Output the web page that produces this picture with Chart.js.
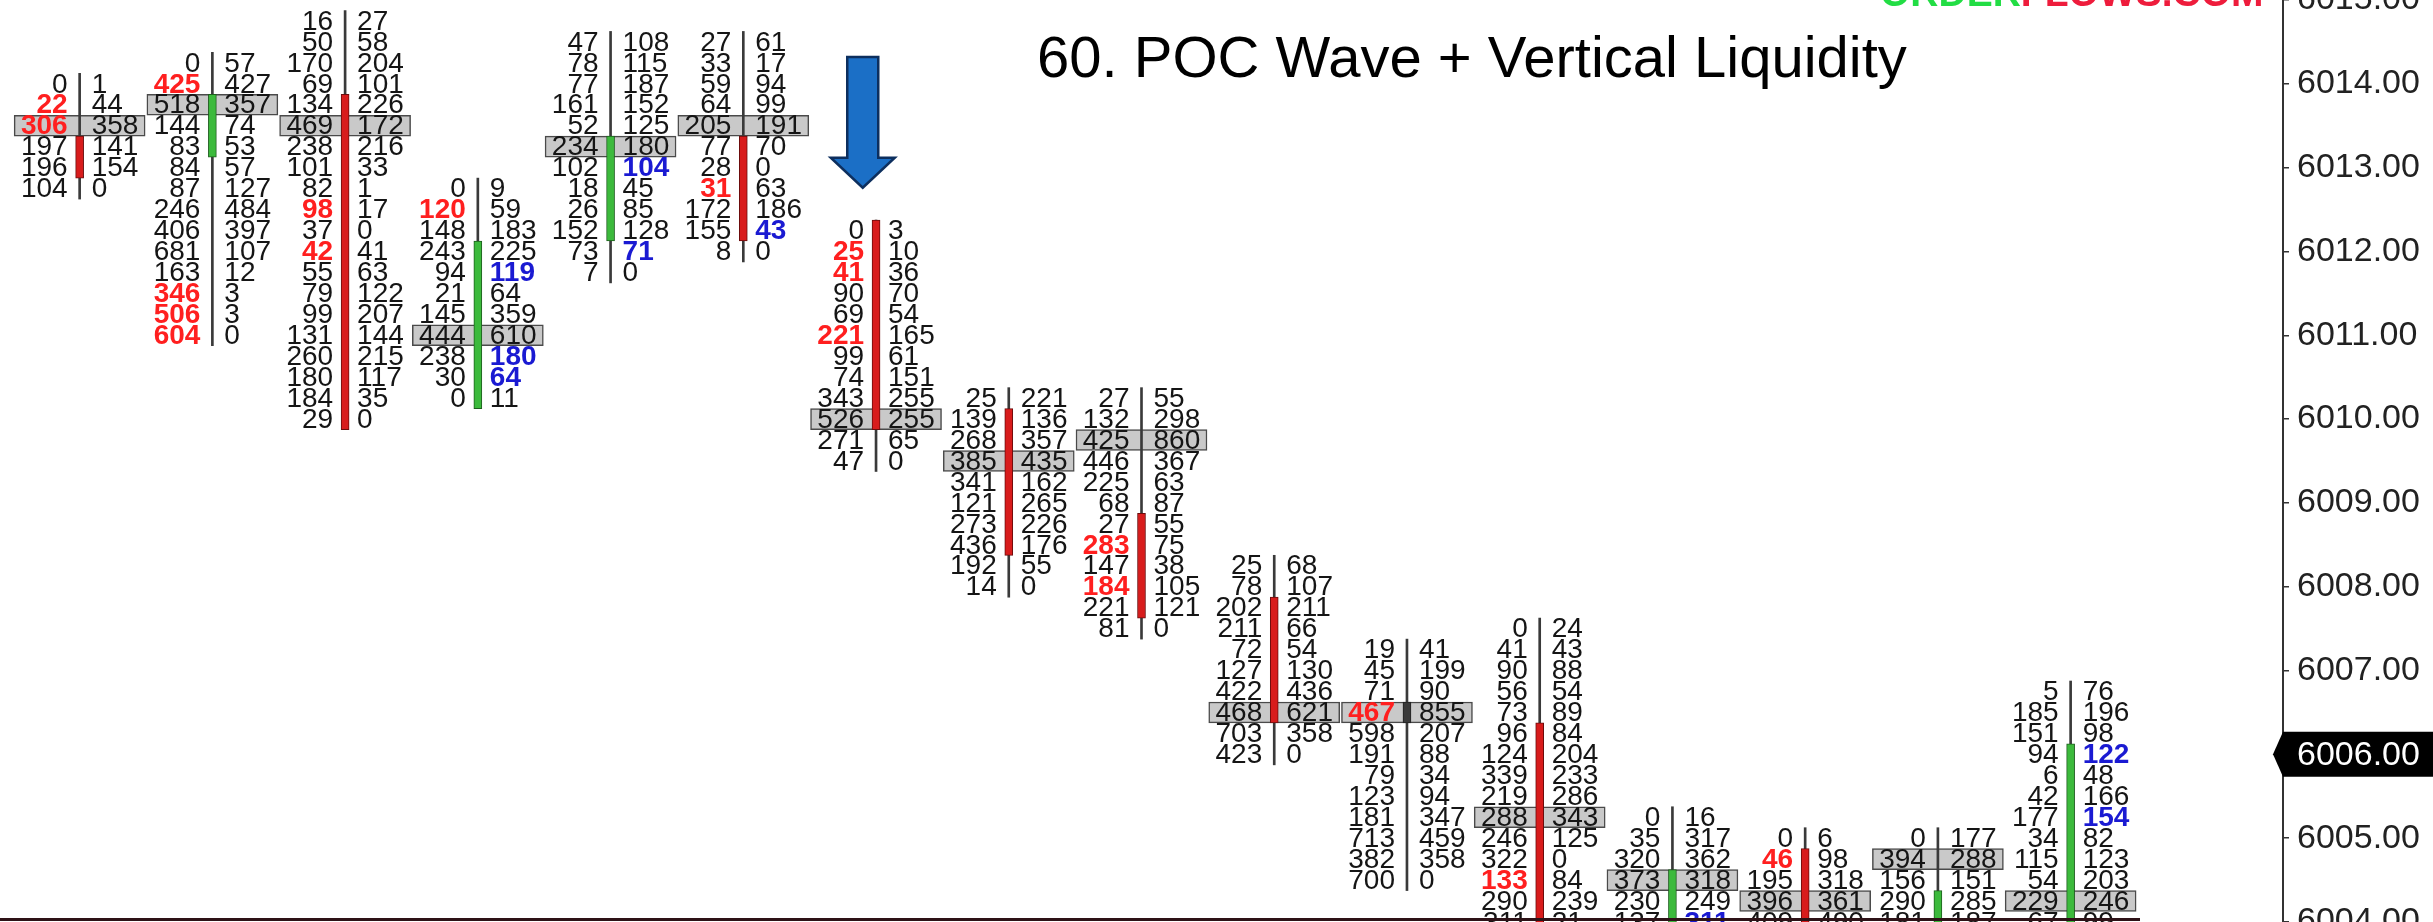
<!DOCTYPE html>
<html lang="en">
<head>
    <meta charset="UTF-8">
    <title>60. POC Wave + Vertical Liquidity</title>
    <script src="https://cdn.jsdelivr.net/npm/chart.js"></script>
    <style>
        html, body {
            margin: 0;
            padding: 0;
            background: #fff;
            overflow: hidden;
        }
        body {
            width: 2433px;
            height: 922px;
            position: relative;
            font-family: 'Liberation Sans', Arial, sans-serif;
        }
        #chart {
            position: absolute;
            left: 0;
            top: 0;
        }
        .title {
            position: absolute;
            left: 1037px;
            top: 28px;
            font-size: 58px;
            line-height: 58px;
            color: #000;
            white-space: nowrap;
        }
        .logo {
            position: absolute;
            left: 1880px;
            top: -27px;
            font-size: 39px;
            line-height: 39px;
            font-weight: bold;
            white-space: nowrap;
        }
        .logo .g { color: #22dd44; }
        .logo .r { color: #ee1c3c; }
    </style>
</head>
<body>
    <canvas id="chart" width="2433" height="922"></canvas>
    <div class="title">60. POC Wave + Vertical Liquidity</div>
    <div class="logo"><span class="g">ORDER</span><span class="r">FLOWS.COM</span></div>

    <script>
        // price step of one footprint row
        const TICK = 0.25;

        // price of the top row of each bar
        const colTop = [6014.00, 6014.25, 6014.75, 6012.75, 6014.50, 6014.50, 6012.25, 6010.25,
                        6010.25, 6008.25, 6007.25, 6007.50, 6005.25, 6005.00, 6005.00, 6006.75];

        // bid volume per row, top to bottom
        const bids = [
            [0, 22, 306, 197, 196, 104],
            [0, 425, 518, 144, 83, 84, 87, 246, 406, 681, 163, 346, 506, 604],
            [16, 50, 170, 69, 134, 469, 238, 101, 82, 98, 37, 42, 55, 79, 99, 131, 260, 180, 184, 29],
            [0, 120, 148, 243, 94, 21, 145, 444, 238, 30, 0],
            [47, 78, 77, 161, 52, 234, 102, 18, 26, 152, 73, 7],
            [27, 33, 59, 64, 205, 77, 28, 31, 172, 155, 8],
            [0, 25, 41, 90, 69, 221, 99, 74, 343, 526, 271, 47],
            [25, 139, 268, 385, 341, 121, 273, 436, 192, 14],
            [27, 132, 425, 446, 225, 68, 27, 283, 147, 184, 221, 81],
            [25, 78, 202, 211, 72, 127, 422, 468, 703, 423],
            [19, 45, 71, 467, 598, 191, 79, 123, 181, 713, 382, 700],
            [0, 41, 90, 56, 73, 96, 124, 339, 219, 288, 246, 322, 133, 290, 311],
            [0, 35, 320, 373, 230, 137],
            [0, 46, 195, 396, 409],
            [0, 394, 156, 290, 181],
            [5, 185, 151, 94, 6, 42, 177, 34, 115, 54, 229, 67]
        ];

        // ask volume per row, top to bottom
        const asks = [
            [1, 44, 358, 141, 154, 0],
            [57, 427, 357, 74, 53, 57, 127, 484, 397, 107, 12, 3, 3, 0],
            [27, 58, 204, 101, 226, 172, 216, 33, 1, 17, 0, 41, 63, 122, 207, 144, 215, 117, 35, 0],
            [9, 59, 183, 225, 119, 64, 359, 610, 180, 64, 11],
            [108, 115, 187, 152, 125, 180, 104, 45, 85, 128, 71, 0],
            [61, 17, 94, 99, 191, 70, 0, 63, 186, 43, 0],
            [3, 10, 36, 70, 54, 165, 61, 151, 255, 255, 65, 0],
            [221, 136, 357, 435, 162, 265, 226, 176, 55, 0],
            [55, 298, 860, 367, 63, 87, 55, 75, 38, 105, 121, 0],
            [68, 107, 211, 66, 54, 130, 436, 621, 358, 0],
            [41, 199, 90, 855, 207, 88, 34, 94, 347, 459, 358, 0],
            [24, 43, 88, 54, 89, 84, 204, 233, 286, 343, 125, 0, 84, 239, 21],
            [16, 317, 362, 318, 249, 311],
            [6, 98, 318, 361, 490],
            [177, 288, 151, 285, 187],
            [76, 196, 98, 122, 48, 166, 154, 82, 123, 203, 246, 99]
        ];

        // rows (index from top) with bid / ask imbalance
        const bidImb = [[1, 2], [1, 11, 12, 13], [9, 11], [1], [], [7], [1, 2, 5], [], [7, 9], [], [3], [12], [], [1], [], []];
        const askImb = [[], [], [], [4, 8, 9], [6, 10], [9], [], [], [], [], [], [], [5], [], [], [3, 6]];

        // point of control of each bar
        const pocPrice = [6013.50, 6013.75, 6013.50, 6011.00, 6013.25, 6013.50, 6010.00, 6009.50,
                          6009.75, 6006.50, 6006.50, 6005.25, 6004.50, 6004.25, 6004.75, 6004.25];

        // candle open / close
        const openPrice  = [6013.25, 6013.25, 6013.75, 6010.25, 6012.25, 6013.25, 6012.25, 6010.00,
                            6008.75, 6007.75, 6006.50, 6006.25, 6004.00, 6004.75, 6004.00, 6004.00];
        const closePrice = [6013.00, 6013.75, 6010.00, 6012.00, 6013.25, 6012.25, 6010.00, 6008.50,
                            6007.75, 6006.50, 6006.50, 6004.00, 6004.50, 6004.00, 6004.25, 6006.00];

        // axis labels and last price
        const priceTicks = [6004, 6005, 6006, 6007, 6008, 6009, 6010, 6011, 6012, 6013, 6014, 6015];
        const lastPrice = 6006.00;

        // arrow annotation (bar position, from price, to price)
        const arrowAt = 5.9;
        const arrowFrom = 6014.32;
        const arrowTo = 6012.76;

        const FONT = "'Liberation Sans', Arial, sans-serif";
        const half = TICK / 2;
        const cols = colTop.map((t, i) => i);
        const lowOf = i => colTop[i] - TICK * (bids[i].length - 1);

        const bodyData = cols.map(i => ({
            x: i,
            y: [Math.min(openPrice[i], closePrice[i]) - half, Math.max(openPrice[i], closePrice[i]) + half]
        }));
        const bodyFill = cols.map(i => closePrice[i] > openPrice[i] ? '#3cba3c' : (closePrice[i] < openPrice[i] ? '#d81c1c' : '#3a3a3a'));
        const bodyLine = cols.map(i => closePrice[i] > openPrice[i] ? '#1d5e1d' : (closePrice[i] < openPrice[i] ? '#6a0c0c' : '#222'));
        const wickData = cols.map(i => ({ x: i, y: [lowOf(i) - half, colTop[i] + half] }));
        const pocData = cols.map(i => ({ x: i, y: [pocPrice[i] - half, pocPrice[i] + half] }));

        // numbers inside each row
        const footprintText = {
            id: 'footprintText',
            afterDatasetsDraw(chart) {
                const { ctx, chartArea } = chart;
                const xs = chart.scales.x;
                const ys = chart.scales.y;
                ctx.save();
                ctx.beginPath();
                ctx.rect(chartArea.left, chartArea.top, chartArea.width, chartArea.height);
                ctx.clip();
                ctx.textBaseline = 'middle';
                cols.forEach(i => {
                    const cx = xs.getPixelForValue(i);
                    bids[i].forEach((b, j) => {
                        const yy = ys.getPixelForValue(colTop[i] - TICK * j) + 1;
                        const red = bidImb[i].includes(j);
                        ctx.font = (red ? 'bold ' : '') + '28px ' + FONT;
                        ctx.fillStyle = red ? '#ff1f1f' : '#151515';
                        ctx.textAlign = 'right';
                        ctx.fillText(String(b), cx - 12, yy);

                        const blue = askImb[i].includes(j);
                        ctx.font = (blue ? 'bold ' : '') + '28px ' + FONT;
                        ctx.fillStyle = blue ? '#1a1ad2' : '#151515';
                        ctx.textAlign = 'left';
                        ctx.fillText(String(asks[i][j]), cx + 12, yy);
                    });
                });

                // blue arrow
                const ax = xs.getPixelForValue(arrowAt);
                const y0 = ys.getPixelForValue(arrowFrom);
                const y1 = ys.getPixelForValue(arrowTo);
                const yh = y1 - 30;
                ctx.beginPath();
                ctx.moveTo(ax - 15.5, y0);
                ctx.lineTo(ax + 15.5, y0);
                ctx.lineTo(ax + 15.5, yh);
                ctx.lineTo(ax + 32, yh);
                ctx.lineTo(ax, y1);
                ctx.lineTo(ax - 32, yh);
                ctx.lineTo(ax - 15.5, yh);
                ctx.closePath();
                ctx.fillStyle = '#1b6fc6';
                ctx.fill();
                ctx.lineWidth = 2.5;
                ctx.strokeStyle = '#0d2f5e';
                ctx.stroke();
                ctx.restore();
            },
            afterDraw(chart) {
                const { ctx, chartArea } = chart;
                const ys = chart.scales.y;
                ctx.save();
                // bottom panel border
                ctx.fillStyle = '#2e1217';
                ctx.fillRect(0, chart.height - 4, 2140, 3);

                // last price tag
                const yy = ys.getPixelForValue(lastPrice);
                const left = chartArea.right;
                ctx.beginPath();
                ctx.moveTo(left - 10, yy);
                ctx.lineTo(left, yy - 22.5);
                ctx.lineTo(chart.width, yy - 22.5);
                ctx.lineTo(chart.width, yy + 22.5);
                ctx.lineTo(left, yy + 22.5);
                ctx.closePath();
                ctx.fillStyle = '#000';
                ctx.fill();
                ctx.fillStyle = '#fff';
                ctx.font = '34px ' + FONT;
                ctx.textAlign = 'left';
                ctx.textBaseline = 'middle';
                ctx.fillText(lastPrice.toFixed(2), left + 14, yy + 1);
                ctx.restore();
            }
        };

        const ctx = document.getElementById('chart').getContext('2d');
        const chart = new Chart(ctx, {
            type: 'bar',
            data: {
                datasets: [
                    {
                        label: 'Body',
                        data: bodyData,
                        backgroundColor: bodyFill,
                        borderColor: bodyLine,
                        borderWidth: 1,
                        borderSkipped: false,
                        barThickness: 8,
                        grouped: false,
                        order: 0
                    },
                    {
                        label: 'Range',
                        data: wickData,
                        backgroundColor: '#3a3a3a',
                        borderWidth: 0,
                        barThickness: 2,
                        grouped: false,
                        order: 1
                    },
                    {
                        label: 'POC',
                        data: pocData,
                        backgroundColor: '#c9c9c9',
                        borderColor: '#4a4a4a',
                        borderWidth: 1.5,
                        borderSkipped: false,
                        barThickness: 131,
                        grouped: false,
                        order: 2
                    }
                ]
            },
            options: {
                responsive: false,
                animation: false,
                devicePixelRatio: 1,
                layout: { padding: 0 },
                plugins: {
                    legend: { display: false },
                    tooltip: { enabled: false }
                },
                scales: {
                    x: {
                        type: 'linear',
                        min: -0.6,
                        max: 16.6,
                        offset: false,
                        display: false
                    },
                    y: {
                        type: 'linear',
                        position: 'right',
                        min: 6004,
                        max: 6015,
                        afterBuildTicks: s => { s.ticks = priceTicks.map(v => ({ value: v })); },
                        afterFit: s => { s.width = 150; s.paddingTop = 0; s.paddingBottom = 0; },
                        ticks: {
                            color: '#222',
                            padding: 8,
                            font: { family: FONT, size: 34 },
                            callback: v => Number(v).toFixed(2)
                        },
                        grid: {
                            display: true,
                            drawOnChartArea: false,
                            drawTicks: true,
                            tickLength: 6,
                            tickColor: '#333',
                            lineWidth: 1.5
                        },
                        border: { display: true, color: '#333', width: 2 }
                    }
                }
            },
            plugins: [footprintText]
        });
    </script>
</body>
</html>
